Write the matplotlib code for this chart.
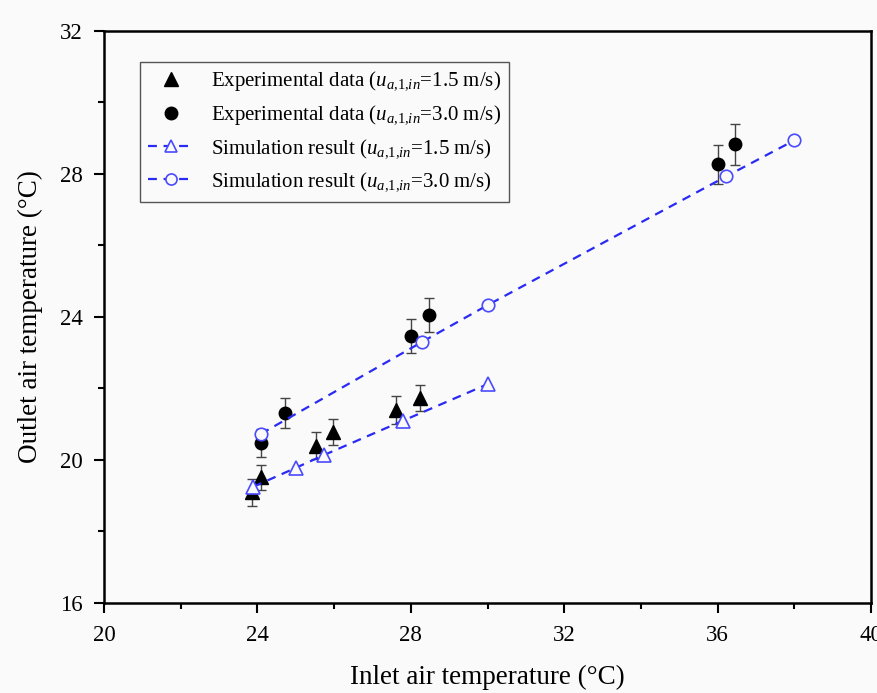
import matplotlib
matplotlib.use("Agg")
import matplotlib.pyplot as plt
from matplotlib.lines import Line2D
from matplotlib.ticker import MultipleLocator

plt.rcParams['font.family'] = ['Liberation Serif', 'DejaVu Serif']
plt.rcParams['mathtext.fontset'] = 'custom'
plt.rcParams['mathtext.rm'] = 'Liberation Serif'
plt.rcParams['mathtext.it'] = 'Liberation Serif:italic'

# experimental data, u = 1.5 m/s
exp15_x = [23.86, 24.09, 25.53, 25.97, 27.61, 28.24]
exp15_y = [19.10, 19.52, 20.40, 20.78, 21.40, 21.73]
exp15_err = [0.38, 0.35, 0.38, 0.37, 0.40, 0.37]

# experimental data, u = 3.0 m/s
exp30_x = [24.09, 24.72, 28.00, 28.47, 36.01, 36.45]
exp30_y = [20.47, 21.31, 23.46, 24.05, 28.27, 28.83]
exp30_err = [0.40, 0.42, 0.47, 0.47, 0.55, 0.57]

# simulation results
sim15_x = [23.89, 25.0, 25.74, 27.8, 30.0]
sim15_y = [19.25, 19.78, 20.14, 21.10, 22.12]
sim30_x = [24.09, 28.29, 30.0, 36.22, 38.0]
sim30_y = [20.73, 23.30, 24.33, 27.93, 28.94]

labels = [r'Experimental data ($u_{a{,}1{,}in}$=1.5 m/s)',
          r'Experimental data ($u_{a{,}1{,}in}$=3.0 m/s)',
          r'Simulation result ($u_{a{,}1{,}in}$=1.5 m/s)',
          r'Simulation result ($u_{a{,}1{,}in}$=3.0 m/s)']

bg = '#fafafa'
fig = plt.figure(figsize=(8.78, 6.93), dpi=100, facecolor=bg)
ax = fig.add_axes([0.1185, 0.1299, 0.8735, 0.8254])
ax.set_facecolor(bg)

blue = '#2a2af5'
mblue = '#4a4aff'
ax.errorbar(exp15_x, exp15_y, yerr=exp15_err, fmt='^', color='black', ms=10,
            ecolor='#444444', elinewidth=1, capsize=3.5, capthick=1, zorder=3)
ax.errorbar(exp30_x, exp30_y, yerr=exp30_err, fmt='o', color='black', ms=9,
            ecolor='#444444', elinewidth=1, capsize=3.5, capthick=1, zorder=3)
ax.plot(sim15_x, sim15_y, '--^', color=blue, lw=1.6, ms=10, mfc=bg,
        mec=mblue, mew=1.2, dashes=(4, 3), zorder=4)
ax.plot(sim30_x, sim30_y, '--o', color=blue, lw=1.6, ms=9, mfc=bg,
        mec=mblue, mew=1.2, dashes=(4, 3), zorder=4)

handles = [
    Line2D([], [], ls='none', marker='^', color='black', ms=10),
    Line2D([], [], ls='none', marker='o', color='black', ms=9),
    Line2D([], [], ls='--', marker='^', color=blue, lw=1.6, ms=9, mfc=bg,
           mec=mblue, mew=1.2, dashes=(4, 3)),
    Line2D([], [], ls='--', marker='o', color=blue, lw=1.6, ms=8, mfc=bg,
           mec=mblue, mew=1.2, dashes=(4, 3)),
]

ax.set_xlim(20, 40)
ax.set_ylim(16, 32)
ax.xaxis.set_major_locator(MultipleLocator(4))
ax.xaxis.set_minor_locator(MultipleLocator(2))
ax.yaxis.set_major_locator(MultipleLocator(4))
ax.yaxis.set_minor_locator(MultipleLocator(2))
ax.tick_params(which='both', direction='out', width=1.5, labelsize=16.5,
               top=False, right=False, pad=8)
ax.tick_params(which='major', length=7.5)
ax.tick_params(which='minor', length=4)
for s in ax.spines.values():
    s.set_linewidth(1.8)

ax.set_xlabel('Inlet air temperature (°C)', fontsize=19.5, labelpad=14)
ax.set_ylabel('Outlet air temperature (°C)', fontsize=19.5, labelpad=12)

leg = ax.legend(handles, labels, loc='upper left', bbox_to_anchor=(0.047, 0.946),
                borderaxespad=0, fontsize=15, fancybox=False, edgecolor='#555555',
                framealpha=1, facecolor=bg, handlelength=2.2, labelspacing=0.5)
leg.get_frame().set_linewidth(1.0)

fig.savefig('out.png', dpi=100, facecolor=bg)
